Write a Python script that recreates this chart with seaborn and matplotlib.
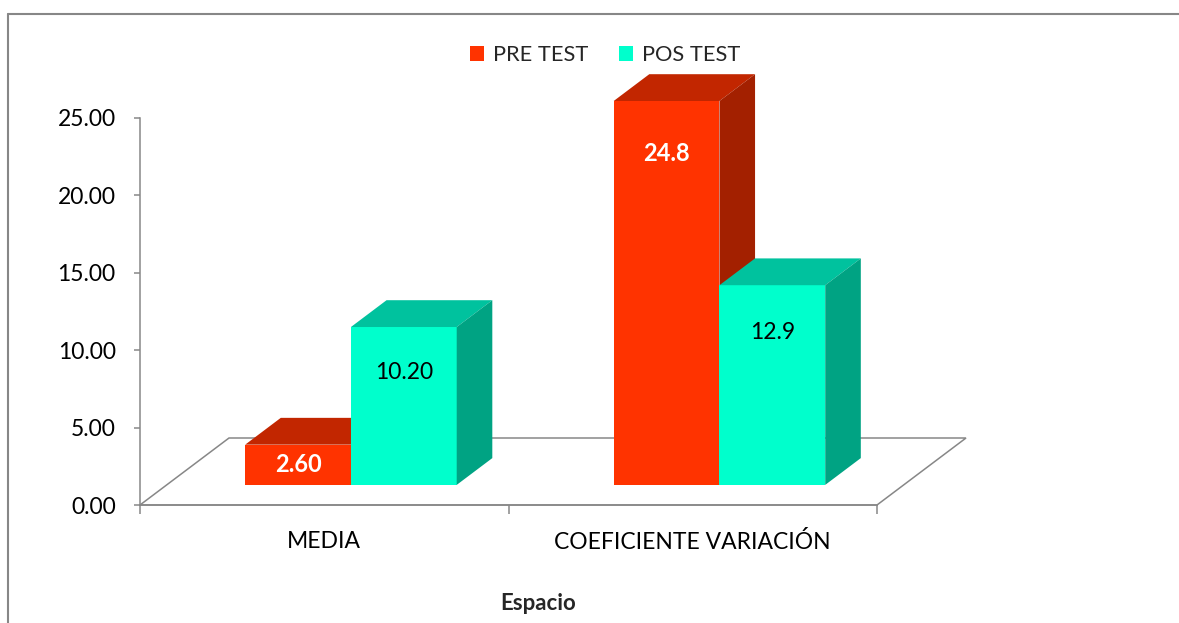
import matplotlib
matplotlib.use("Agg")
import matplotlib.pyplot as plt
from matplotlib.patches import Polygon, Patch
from matplotlib.lines import Line2D
from matplotlib.colors import to_rgb
import seaborn as sns
import pandas as pd
import numpy as np

# datos
categorias = ["MEDIA", "COEFICIENTE VARIACIÓN"]
series = ["PRE TEST", "POS TEST"]
pre_test = [2.60, 24.8]
pos_test = [10.20, 12.9]
etiquetas_pre = ["2.60", "24.8"]
etiquetas_pos = ["10.20", "12.9"]
ticks_y = [0, 5, 10, 15, 20, 25]

# estilo
colores_frente = ["#FF3300", "#00FFCC"]
colores_techo = ["#C22600", "#00C29E"]
colores_lado = ["#A32000", "#00A383"]
colores_texto = ["white", "black"]
pesos_texto = ["bold", "normal"]
tam_texto = [17, 16.5]
GRIS = "#878787"

# profundidad del piso (pixeles) y posicion de las barras dentro de ella
PISO_DX, PISO_DY = 89, 67
FRENTE_BARRA = 0.30
FONDO_BARRA = 0.70

sns.set_theme(style="white")
plt.rcParams["font.family"] = ["Lato", "DejaVu Sans"]

df = pd.DataFrame({
    "categoria": categorias * 2,
    "serie": [series[0]] * len(categorias) + [series[1]] * len(categorias),
    "valor": pre_test + pos_test,
})

fig = plt.figure(figsize=(11.79, 6.23), dpi=100)
ax = fig.add_axes([140 / 1179, 118 / 623, 737 / 1179, 387 / 623])

sns.barplot(data=df, x="categoria", y="valor", hue="serie", hue_order=series,
            palette=colores_frente, width=0.574, gap=0, saturation=1,
            errorbar=None, legend=False, linewidth=0, ax=ax)

ax.set_xlim(-0.5, len(categorias) - 0.5)
ax.set_ylim(ticks_y[0], ticks_y[-1])

# pixeles por unidad de datos
p0 = ax.transData.transform((0, 0))
sx = ax.transData.transform((1, 0))[0] - p0[0]
sy = ax.transData.transform((0, 1))[1] - p0[1]


def prof(f):
    return f * PISO_DX / sx, f * PISO_DY / sy


barras = list(ax.patches)

# piso
fx, fy = prof(1)
x0, x1 = ax.get_xlim()
piso = Polygon([(x0, 0), (x1, 0), (x1 + fx, fy), (x0 + fx, fy)], closed=True,
               facecolor="white", edgecolor=GRIS, lw=1.1, zorder=1, clip_on=False)
ax.add_patch(piso)

ox, oy = prof(FRENTE_BARRA)
dx, dy = prof(FONDO_BARRA - FRENTE_BARRA)
valores = [pre_test, pos_test]
etiquetas = [etiquetas_pre, etiquetas_pos]

barras = sorted(barras, key=lambda p: p.get_x())
for k, p in enumerate(barras):
    rgb = p.get_facecolor()[:3]
    i = [np.allclose(rgb, to_rgb(c), atol=0.01) for c in colores_frente].index(True)
    centro = p.get_x() + p.get_width() / 2
    j = int(round(centro))

    p.set_x(p.get_x() + ox)
    p.set_y(p.get_y() + oy)
    p.set_clip_on(False)
    z = 3 + k
    p.set_zorder(z)

    xa = p.get_x()
    xb = xa + p.get_width()
    ya = p.get_y()
    yb = ya + p.get_height()
    techo = Polygon([(xa, yb), (xb, yb), (xb + dx, yb + dy), (xa + dx, yb + dy)],
                    closed=True, facecolor=colores_techo[i], edgecolor="none",
                    zorder=z, clip_on=False)
    lado = Polygon([(xb, ya), (xb + dx, ya + dy), (xb + dx, yb + dy), (xb, yb)],
                   closed=True, facecolor=colores_lado[i], edgecolor="none",
                   zorder=z, clip_on=False)
    ax.add_patch(techo)
    ax.add_patch(lado)

    # etiqueta cerca del extremo superior (al centro si la barra es baja)
    v = valores[i][j]
    ax.text((xa + xb) / 2, oy + max(0.97 * v - 2.65, v / 2), etiquetas[i][j],
            ha="center", va="center", fontsize=tam_texto[i], color=colores_texto[i],
            fontweight=pesos_texto[i], zorder=z + 0.5)

# ejes
for lado_eje in ["top", "right"]:
    ax.spines[lado_eje].set_visible(False)
for lado_eje in ["left", "bottom"]:
    ax.spines[lado_eje].set_color(GRIS)
    ax.spines[lado_eje].set_linewidth(1.1)
    ax.spines[lado_eje].set_zorder(2)

ax.set_yticks(ticks_y)
ax.set_yticklabels([f"{t:.2f}" for t in ticks_y])
ax.tick_params(axis="y", direction="out", left=True, length=4.5, width=1.1,
               color=GRIS, pad=13, labelsize=16.5, labelcolor="black")

ax.set_xticks(np.arange(len(categorias) + 1) - 0.5)
ax.set_xticklabels([])
ax.set_xticks(np.arange(len(categorias)), minor=True)
ax.set_xticklabels(categorias, minor=True)
ax.tick_params(axis="x", which="major", direction="out", bottom=True,
               length=6.5, width=1.1, color=GRIS)
ax.tick_params(axis="x", which="minor", bottom=True, length=0, pad=19,
               labelsize=16.5, labelcolor="black")
ax.set_xlabel("")
ax.set_ylabel("")
ax.set_facecolor("none")

# leyenda
handles = [Patch(facecolor=c, edgecolor="none") for c in colores_frente]
fig.legend(handles, series, loc="center", bbox_to_anchor=(605 / 1179, 1 - 55 / 623),
           ncol=2, frameon=False, fontsize=15.7, handlelength=0.66, handleheight=0.66,
           handletextpad=0.4, columnspacing=1.4)

fig.text(538 / 1179, 1 - 603 / 623, "Espacio", ha="center", va="center",
         fontsize=16, fontweight="bold")

# marco del grafico
fig.add_artist(Line2D([8 / 1179, 1], [1 - 14 / 623] * 2, color=GRIS, lw=1.5))
fig.add_artist(Line2D([8 / 1179] * 2, [0, 1 - 14 / 623], color=GRIS, lw=1.5))

fig.savefig("out.png", dpi=100)
